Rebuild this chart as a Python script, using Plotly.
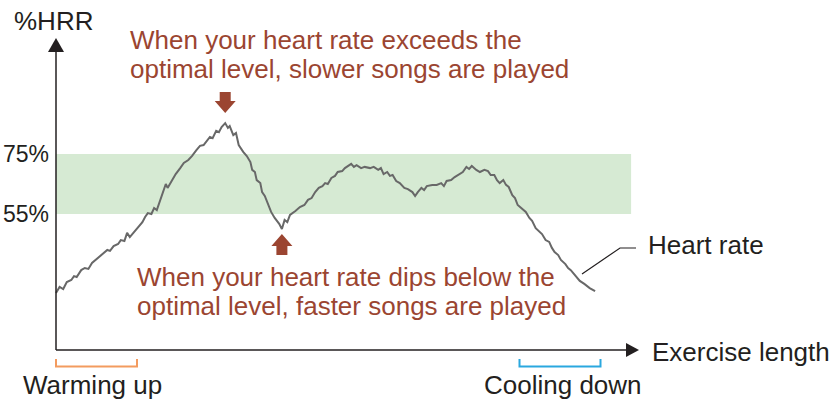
import plotly.graph_objects as go

# Heart-rate reserve (%HRR) over the course of one exercise session (minutes)
minutes = [0.0, 0.4, 0.8, 1.2, 1.7, 2.0, 2.3, 2.8, 3.2, 3.6,
           4.0, 4.4, 4.9, 5.3, 5.7, 6.0, 6.4, 6.9, 7.2, 7.6,
           7.9, 8.2, 8.7, 9.1, 9.6, 9.9, 10.2, 10.6, 10.9, 11.2,
           11.6, 12.0, 12.2, 12.4, 12.9, 13.3, 13.8, 14.2, 14.7, 15.1,
           15.6, 16.0, 16.4, 16.8, 17.1, 17.4, 17.8, 18.1, 18.4, 18.8,
           19.1, 19.3, 19.7, 20.0, 20.3, 20.8, 21.2, 21.6, 21.8, 22.1,
           22.3, 22.7, 22.9, 23.2, 23.6, 23.9, 24.3, 24.8, 25.1,
           25.4, 25.7, 26.0, 26.6, 27.1, 27.6, 28.0, 28.4, 28.8, 29.2,
           29.6, 29.9, 30.2, 30.6, 31.0, 31.3, 31.8, 32.1, 32.4, 32.8,
           33.1, 33.4, 33.9, 34.3, 34.9, 35.3, 35.8, 36.1, 36.4, 36.8,
           37.1, 37.4, 37.8, 38.2, 38.7, 39.1, 39.6, 39.9, 40.2, 40.6,
           40.9, 41.2, 41.8, 42.3, 42.8, 43.1, 43.4, 43.9, 44.3, 44.8,
           45.2, 45.6, 45.9, 46.2, 46.7, 47.1, 47.6, 48.0, 48.3, 48.7,
           49.0, 49.3, 49.7, 50.0, 50.3, 50.7, 51.0, 51.3, 51.8, 52.2,
           52.6, 52.9, 53.3, 53.7, 54.0, 54.4, 54.8, 55.1, 55.4, 55.8,
           56.1, 56.6, 56.9, 57.2, 57.6, 57.9, 58.2, 58.7, 59.0, 59.3,
           59.9]
hrr = [28.7, 30.7, 30.0, 32.3, 33.0, 34.3, 34.0, 36.3, 37.0, 36.7,
       38.7, 39.7, 40.7, 41.7, 43.0, 42.7, 44.3, 45.0, 46.3, 46.0,
       48.7, 47.3, 49.0, 50.3, 52.3, 54.0, 55.3, 55.0, 57.0, 56.3,
       59.7, 63.0, 65.0, 63.7, 66.3, 68.3, 70.3, 72.0, 73.0, 74.3,
       76.3, 77.7, 78.0, 79.7, 80.7, 80.3, 82.7, 82.3, 84.0, 85.3,
       83.7, 84.3, 81.3, 82.0, 78.0, 75.7, 74.3, 72.3, 69.7, 69.0,
       66.3, 65.3, 62.3, 61.0, 58.0, 55.7, 53.7, 51.7, 50.0,
       53.0, 52.3, 54.7, 56.0, 57.3, 58.0, 59.7, 60.3, 62.3, 63.7,
       64.3, 65.3, 65.0, 67.0, 67.7, 69.0, 69.3, 70.3, 71.0, 71.7,
       70.7, 71.3, 70.3, 70.7, 70.3, 70.7, 69.7, 70.3, 68.3, 69.0,
       67.7, 68.0, 66.0, 65.3, 63.7, 63.3, 62.3, 61.0, 62.3, 63.7,
       63.0, 64.3, 64.7, 64.7, 65.3, 64.3, 66.0, 66.3, 67.3, 68.3,
       69.0, 70.7, 70.0, 71.0, 69.7, 69.0, 69.7, 69.3, 68.0, 68.0,
       66.3, 65.3, 66.3, 64.7, 64.0, 61.3, 60.3, 58.0, 56.7, 55.7,
       53.7, 52.7, 50.3, 49.0, 48.3, 46.3, 45.7, 43.7, 42.3, 41.3,
       39.7, 38.3, 37.0, 36.3, 34.7, 33.7, 32.7, 31.7, 31.0, 30.3,
       29.3]

# Optimal training zone and session phases
zone_low, zone_high = 55, 75
zone_end_min = 63.9
warmup_min = [0.0, 9.0]
cooldown_min = [51.5, 60.5]
tick_values = [75, 55]
tick_labels = ["75%", "55%"]

W, H = 834, 403
PX_PER_MIN, PX_PER_PCT = 9.0, 3.0
ORIGIN_PX, ZERO_PY = 56.0, 379.0


def X(px):
    return (px - ORIGIN_PX) / PX_PER_MIN


def Y(py):
    return (ZERO_PY - py) / PX_PER_PCT


def path(points):
    return "M " + " L ".join(f"{a:.4f},{b:.4f}" for a, b in points) + " Z"


BLACK = "#231f20"
RED = "#9b4531"
FONT = "Liberation Sans, Arial, sans-serif"

fig = go.Figure()
fig.add_trace(go.Scatter(x=minutes, y=hrr, mode="lines",
                         line=dict(color="#686868", width=2),
                         hoverinfo="skip", showlegend=False))

shapes = []
# optimal zone band
shapes.append(dict(type="rect", xref="x", yref="y", x0=0, x1=zone_end_min,
                   y0=zone_low, y1=zone_high, fillcolor="#d6ead3",
                   line=dict(width=0), layer="below"))

# axes with arrowheads
axis_y = Y(350)
shapes.append(dict(type="line", xref="x", yref="y", x0=0, x1=0,
                   y0=axis_y, y1=Y(50), line=dict(color=BLACK, width=1.5)))
shapes.append(dict(type="line", xref="x", yref="y", x0=0, x1=X(629),
                   y0=axis_y, y1=axis_y, line=dict(color=BLACK, width=1.5)))
shapes.append(dict(type="path", xref="x", yref="y",
                   path=path([(X(56), Y(38)), (X(48), Y(52)), (X(64), Y(52))]),
                   fillcolor=BLACK, line=dict(width=0)))
shapes.append(dict(type="path", xref="x", yref="y",
                   path=path([(X(639), Y(350)), (X(626), Y(343)), (X(626), Y(357))]),
                   fillcolor=BLACK, line=dict(width=0)))


def bracket(x0, x1, color):
    top, bot = Y(359), Y(366.5)
    return dict(type="path", xref="x", yref="y",
                path=f"M {x0},{top} L {x0},{bot} L {x1},{bot} L {x1},{top}",
                line=dict(color=color, width=2))


shapes.append(bracket(warmup_min[0], warmup_min[1], "#f39b5f"))
shapes.append(bracket(cooldown_min[0], cooldown_min[1], "#2aa8df"))


def block_arrow(tip_x, tip_y, direction):
    # direction = -1: points down (body above the tip); +1: points up
    sgn = 1 if direction < 0 else -1
    outline = [(0, 0), (-10.5, 12), (-5.5, 12), (-5.5, 21), (5.5, 21), (5.5, 12), (10.5, 12)]
    pts = [(tip_x + dx / PX_PER_MIN, tip_y + sgn * h / PX_PER_PCT) for dx, h in outline]
    return dict(type="path", xref="x", yref="y", path=path(pts),
                fillcolor=RED, line=dict(width=0))


peak_i = max(range(len(hrr)), key=lambda i: hrr[i])
dip_i = min(range(peak_i, peak_i + 30), key=lambda i: hrr[i])
shapes.append(block_arrow(minutes[peak_i], hrr[peak_i] + 10 / PX_PER_PCT, -1))
shapes.append(block_arrow(minutes[dip_i], hrr[dip_i] - 5 / PX_PER_PCT, +1))

# leader line for the heart-rate label
shapes.append(dict(type="path", xref="x", yref="y",
                   path=f"M {X(582)},{Y(274)} L {X(620)},{Y(248)} L {X(636)},{Y(248)}",
                   line=dict(color=BLACK, width=1.2)))

annotations = []


def label(text, px, py, color=BLACK, size=26, anchor="left"):
    annotations.append(dict(text=text, x=X(px), y=Y(py), xref="x", yref="y",
                            xanchor=anchor, yanchor="middle", showarrow=False,
                            font=dict(family=FONT, size=size, color=color)))


label("%HRR", 53, 21, anchor="center")
for val, txt in zip(tick_values, tick_labels):
    annotations.append(dict(text=txt, x=X(51), y=val, xref="x", yref="y",
                            xanchor="right", yanchor="middle", showarrow=False,
                            font=dict(family=FONT, size=23, color=BLACK)))
label("When your heart rate exceeds the", 128, 40, RED)
label("optimal level, slower songs are played", 128, 69, RED)
label("When your heart rate dips below the", 135, 277, RED)
label("optimal level, faster songs are played", 135, 306, RED)
label("Heart rate", 646, 245)
label("Exercise length", 650, 352)
label("Warming up", 92, 385, anchor="center")
label("Cooling down", 563, 385, anchor="center")

fig.update_layout(
    width=W, height=H,
    margin=dict(l=0, r=0, t=0, b=0),
    paper_bgcolor="white", plot_bgcolor="white",
    xaxis=dict(range=[X(0), X(W)], visible=False, fixedrange=True),
    yaxis=dict(range=[Y(H), Y(0)], visible=False, fixedrange=True),
    shapes=shapes, annotations=annotations,
    showlegend=False,
)

fig.write_html("out.html")
